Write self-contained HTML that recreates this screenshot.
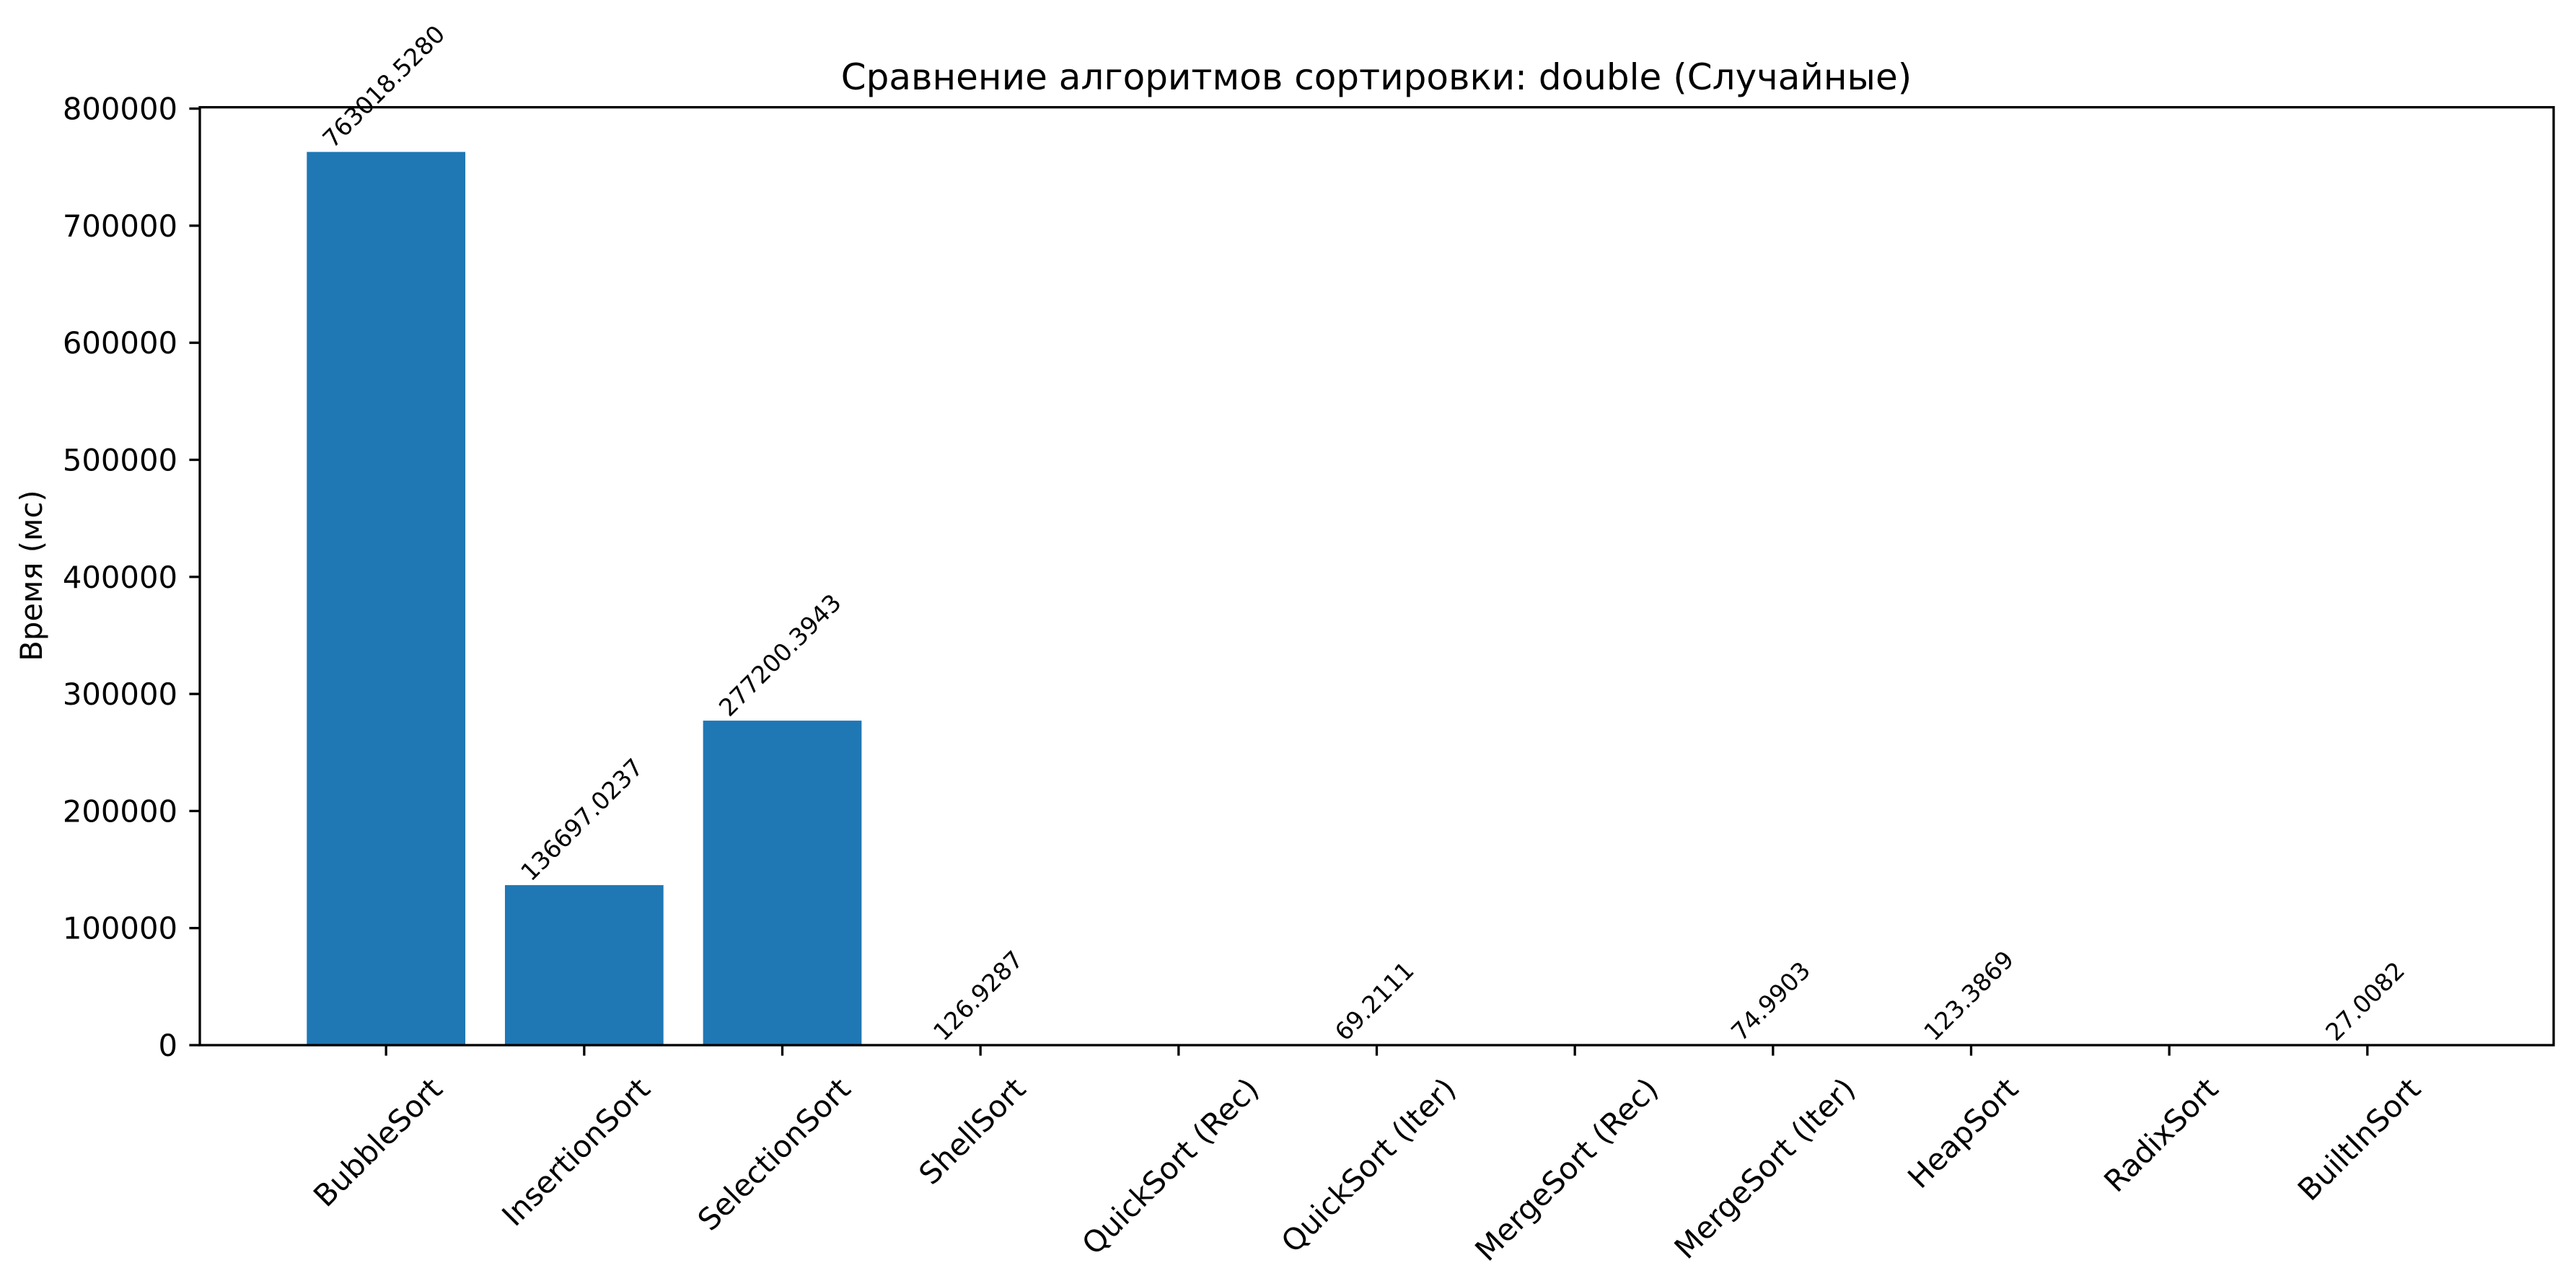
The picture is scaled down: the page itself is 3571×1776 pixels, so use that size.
<!DOCTYPE html>
<html><head><meta charset="utf-8">
<style>
html,body{margin:0;padding:0;background:#fff;}
svg{display:block;font-family:"DejaVu Sans","Liberation Sans",sans-serif;}
</style></head>
<body>
<svg id="chart" width="3571" height="1776" viewBox="0 0 3571 1776" xmlns="http://www.w3.org/2000/svg">
<rect x="0" y="0" width="3571" height="1776" fill="#fff"/>
<text x="1908" y="124" font-size="50" text-anchor="middle" fill="#000">Сравнение алгоритмов сортировки: double (Случайные)</text>
<text transform="translate(58,798) rotate(-90)" font-size="41.7" text-anchor="middle" fill="#000">Время (мс)</text>
<g id="bars"></g>
<g id="yticks"></g>
<g id="xticks"></g>
<g id="labels"></g>
<rect x="277" y="148.7" width="3263" height="1300.3" fill="none" stroke="#000" stroke-width="3.3"/>
</svg>
<script>
const categories = ["BubbleSort","InsertionSort","SelectionSort","ShellSort","QuickSort (Rec)","QuickSort (Iter)","MergeSort (Rec)","MergeSort (Iter)","HeapSort","RadixSort","BuiltInSort"];
const values = [763018.5280,136697.0237,277200.3943,126.9287,0,69.2111,0,74.9903,123.3869,0,27.0082];
const valueLabels = ["763018.5280","136697.0237","277200.3943","126.9287","","69.2111","","74.9903","123.3869","","27.0082"];
const yTicks = [0,100000,200000,300000,400000,500000,600000,700000,800000];
const yTickLabels = ["0","100000","200000","300000","400000","500000","600000","700000","800000"];

const NS = "http://www.w3.org/2000/svg";
const L = 277, R = 3540, T = 148.7, B = 1449;
const n = categories.length;
const xMin = -0.4 - 0.05*(n - 1 + 0.8), xMax = n - 1 + 0.4 + 0.05*(n - 1 + 0.8);
const yMax = 801169;
function xs(v){ return L + (v - xMin)/(xMax - xMin)*(R - L); }
function ys(v){ return B - v/yMax*(B - T); }
function mk(tag, attrs, parent){ const e=document.createElementNS(NS,tag); for(const k in attrs) e.setAttribute(k, attrs[k]); parent.appendChild(e); return e; }

const gb = document.getElementById('bars');
const gy = document.getElementById('yticks');
const gx = document.getElementById('xticks');
const gl = document.getElementById('labels');
const bw = 0.8;

values.forEach((v,i)=>{
  const x0 = xs(i - bw/2), x1 = xs(i + bw/2);
  const r = mk('rect',{x:x0, y:ys(v), width:x1-x0, height:Math.max(0,B-ys(v)), fill:'#1f77b4'}, gb);
  
  
  if (valueLabels[i] !== "") {
    const cx = xs(i), by = ys(v) - 4;
    const t = mk('text',{x:0, y:0, 'font-size':33.3, fill:'#000', transform:`translate(${cx},${by}) rotate(-45)`}, gl);
    t.textContent = valueLabels[i];
    
    
    const w = t.getComputedTextLength();
    const d = w*Math.SQRT1_2, h = 33.3*0.76*Math.SQRT1_2;
    t.setAttribute('transform', `translate(${cx - d/2 + h/2 - 4},${by}) rotate(-45)`);
  }
  const tk = mk('line',{x1:xs(i), x2:xs(i), y1:B, y2:B+14.6, stroke:'#000', 'stroke-width':3.3}, gx);
  
  
  const lt = mk('text',{x:0, y:0, 'font-size':41.7, fill:'#000', 'text-anchor':'end'}, gx);
  lt.textContent = categories[i];
  
  
  const w = lt.getComputedTextLength();
  const d = w*Math.SQRT1_2, h = 41.7*0.76*Math.SQRT1_2;
  const endX = xs(i) + d/2 - h/2 + 10, endY = B + 29 + h + 12;
  lt.setAttribute('transform', `translate(${endX},${endY}) rotate(-45)`);
});

yTicks.forEach((v,i)=>{
  const y = ys(v);
  const tk = mk('line',{x1:L-14.6, x2:L, y1:y, y2:y, stroke:'#000', 'stroke-width':3.3}, gy);
  
  
  const t = mk('text',{x:L-31, y:y+15, 'font-size':41.7, 'text-anchor':'end', fill:'#000'}, gy);
  t.textContent = yTickLabels[i];
  
  
});
</script>
</body></html>
